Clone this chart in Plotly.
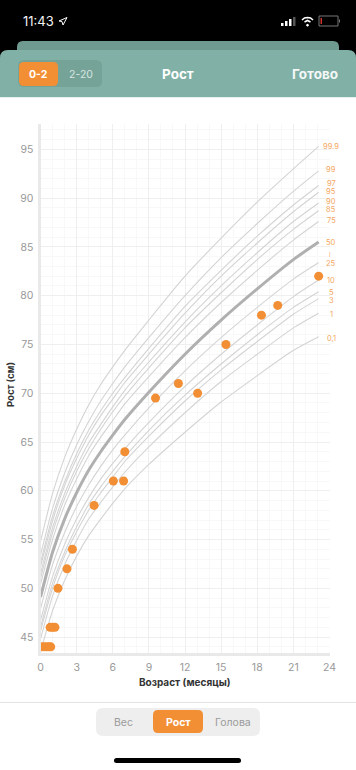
import plotly.graph_objects as go

W, H = 356, 770

ages = [0, 1, 2, 3, 4, 5, 6, 7, 9, 12, 15, 18, 21, 23.1]

p0_1 = [43.5, 47.7, 50.8, 53.3, 55.4, 57.1, 58.7, 60.2, 62.7, 66.0, 69.1, 71.8, 74.4, 75.8]
p1 = [44.8, 49.2, 52.4, 54.9, 57.1, 58.8, 60.4, 61.9, 64.5, 68.0, 71.2, 74.0, 76.7, 78.2]
p3 = [45.6, 50.0, 53.3, 55.8, 58.0, 59.8, 61.4, 63.0, 65.6, 69.2, 72.4, 75.3, 78.1, 79.7]
p5 = [46.0, 50.5, 53.7, 56.3, 58.6, 60.4, 62.0, 63.5, 66.2, 69.8, 73.0, 76.0, 78.8, 80.4]
p10 = [46.7, 51.2, 54.5, 57.1, 59.3, 61.2, 62.8, 64.3, 67.0, 70.7, 74.0, 77.0, 79.9, 81.6]
p25 = [47.9, 52.4, 55.7, 58.4, 60.6, 62.5, 64.2, 65.7, 68.5, 72.3, 75.7, 78.8, 81.7, 83.4]
p50 = [49.1, 53.7, 57.1, 59.8, 62.1, 64.0, 65.7, 67.3, 70.1, 74.0, 77.5, 80.7, 83.7, 85.5]
p75 = [50.4, 55.0, 58.5, 61.2, 63.6, 65.5, 67.2, 68.9, 71.7, 75.7, 79.3, 82.6, 85.7, 87.6]
p85 = [51.0, 55.7, 59.2, 62.0, 64.3, 66.3, 68.1, 69.7, 72.6, 76.7, 80.3, 83.7, 86.8, 88.7]
p90 = [51.5, 56.2, 59.7, 62.5, 64.9, 66.8, 68.6, 70.3, 73.2, 77.3, 81.0, 84.4, 87.6, 89.5]
p95 = [52.2, 56.9, 60.5, 63.3, 65.7, 67.7, 69.4, 71.1, 74.0, 78.2, 82.0, 85.4, 88.6, 90.6]
p97 = [52.6, 57.4, 60.9, 63.8, 66.2, 68.2, 70.0, 71.6, 74.6, 78.9, 82.6, 86.1, 89.3, 91.3]
p99 = [53.4, 58.2, 61.8, 64.7, 67.1, 69.2, 71.0, 72.7, 75.7, 80.0, 83.9, 87.4, 90.7, 92.8]
p99_9 = [54.8, 59.7, 63.4, 66.3, 68.8, 70.9, 72.7, 74.4, 77.5, 82.0, 85.9, 89.6, 93.0, 95.3]

curves = [("0,1", p0_1), ("1", p1), ("3", p3), ("5", p5), ("10", p10), ("25", p25),
          ("50", p50), ("75", p75), ("85", p85), ("90", p90), ("95", p95),
          ("97", p97), ("99", p99), ("99.9", p99_9)]

point_age = [0.1, 0.3, 0.5, 0.7, 0.85, 0.8, 1.0, 1.2, 1.45, 2.2, 2.65, 4.45, 6.05,
             6.9, 7.0, 9.55, 11.45, 13.05, 15.4, 18.35, 19.7, 23.1]
point_height = [44, 44, 44, 44, 44, 46, 46, 46, 50, 52, 54, 58.5, 61,
                61, 64, 69.5, 71, 70, 75, 78, 79, 82]

x_ticks = [0, 3, 6, 9, 12, 15, 18, 21, 24]
y_ticks = [45, 50, 55, 60, 65, 70, 75, 80, 85, 90, 95]

ORANGE = "#f28f35"
FONT = "Inter, Liberation Sans, sans-serif"


def px(x):
    return x / W


def py(y):
    return 1 - y / H


def rrect(x0, y0, x1, y1, r, fill, bottom_round=True):
    a, b, c, d = px(x0), py(y0), px(x1), py(y1)
    rx, ry = r / W, r / H
    if bottom_round:
        path = (f"M {a+rx} {b} L {c-rx} {b} Q {c} {b} {c} {b-ry} L {c} {d+ry} Q {c} {d} {c-rx} {d} "
                f"L {a+rx} {d} Q {a} {d} {a} {d+ry} L {a} {b-ry} Q {a} {b} {a+rx} {b} Z")
    else:
        path = (f"M {a+rx} {b} L {c-rx} {b} Q {c} {b} {c} {b-ry} L {c} {d} L {a} {d} L {a} {b-ry} "
                f"Q {a} {b} {a+rx} {b} Z")
    return dict(type="path", xref="paper", yref="paper", path=path,
                fillcolor=fill, line=dict(width=0), layer="below")


def rect(x0, y0, x1, y1, fill):
    return dict(type="rect", xref="paper", yref="paper", x0=px(x0), x1=px(x1),
                y0=py(y1), y1=py(y0), fillcolor=fill, line=dict(width=0), layer="below")


def stroke(path_pts, color, width):
    d = "M " + " L ".join(f"{px(a)} {py(b)}" for a, b in path_pts)
    return dict(type="path", xref="paper", yref="paper", path=d,
                line=dict(color=color, width=width), layer="above")


def label(text, x, y, size, color, bold=False, angle=0):
    return dict(text=f"<b>{text}</b>" if bold else text, xref="paper", yref="paper",
                x=px(x), y=py(y), xanchor="center", yanchor="middle", showarrow=False,
                font=dict(size=size, color=color, family=FONT), textangle=angle)


fig = go.Figure()

for name, vals in curves:
    is_mid = name == "50"
    fig.add_trace(go.Scatter(
        x=ages, y=vals, mode="lines", name=name, hoverinfo="skip",
        line=dict(color="#b0b0b0" if is_mid else "#d4d4d4", width=3 if is_mid else 1.1,
                  shape="spline", smoothing=0.6),
    ))

fig.add_trace(go.Scatter(
    x=point_age, y=point_height, mode="markers", name="Рост",
    marker=dict(color=ORANGE, size=9, line=dict(width=0)),
))

shapes = [
    rect(0, 0, 356, 97, "#000000"),
    rrect(17, 41, 339, 60, 6, "#6f9a90", bottom_round=False),
    rrect(0, 50, 356, 97, 8, "#80b0a6", bottom_round=False),
    rect(0, 97, 356, 98, "#e6f0ed"),
    rrect(18, 60, 102, 87, 6, "#76a398"),
    rrect(19, 62, 58, 86, 5, ORANGE),
    rect(281, 23, 283.5, 26, "#ffffff"),
    rect(285, 21, 287.5, 26, "#ffffff"),
    rect(289, 19, 291.5, 26, "#ffffff"),
    rect(293, 17, 295.5, 26, "#555555"),
    dict(type="rect", xref="paper", yref="paper", x0=px(319), x1=px(338), y0=py(26), y1=py(16),
         line=dict(color="#777777", width=1), layer="above"),
    rect(320.5, 18, 322, 24, "#c8322a"),
    rect(339, 19.5, 340, 22.5, "#777777"),
    dict(type="path", xref="paper", yref="paper", layer="above", fillcolor="rgba(0,0,0,0)",
         line=dict(color="#ffffff", width=1),
         path=f"M {px(59)} {py(21)} L {px(67)} {py(17.5)} L {px(63)} {py(25)} L {px(62)} {py(21.5)} Z"),
    stroke([(302, 20), (304.5, 18), (307.5, 17.5), (310.5, 18), (313, 20)], "#ffffff", 1.6),
    stroke([(304.5, 22), (307.5, 20.5), (310.5, 22)], "#ffffff", 1.6),
    stroke([(306.5, 24.5), (307.5, 25.5), (308.5, 24.5)], "#ffffff", 1.8),
    rect(0, 702, 356, 703, "#e2e2e2"),
    rrect(96, 708, 260, 736, 7, "#eeeeee"),
    rrect(153, 710, 203, 733, 5, ORANGE),
    rrect(114, 758, 241, 763, 2.5, "#000000"),
]

annotations = [
    label("11:43", 38, 21, 13, "#f2f2f2"),
    label("0-2", 38.5, 74, 10.5, "#ffffff", bold=True),
    label("2-20", 81, 74, 10.5, "#d6e5e1"),
    label("Рост", 178, 74, 13.5, "#ffffff", bold=True),
    label("Готово", 315, 74, 13.5, "#f4f8f7", bold=True),
    label("Вес", 123, 722, 10.5, "#9a9a9a"),
    label("Рост", 178, 722, 10.5, "#ffffff", bold=True),
    label("Голова", 233, 722, 10.5, "#9a9a9a"),
    label("<b>Возраст (месяцы)</b>", 185, 681.5, 10, "#333333"),
    label("<b>Рост (см)</b>", 10, 385, 9.5, "#333333", angle=-90),
]

label_y = {"0,1": 338, "1": 314, "3": 300, "5": 293, "10": 281, "25": 263, "50": 242,
           "75": 221, "85": 210, "90": 202, "95": 191.5, "97": 183.5, "99": 170, "99.9": 146.5}
for name, _ in curves:
    annotations.append(label(name, 331, label_y[name], 7.5, "#f4a65e"))
annotations.append(label("I", 329.5, 255.5, 5.5, "#f4a65e"))

fig.update_layout(
    width=W, height=H, margin=dict(l=0, r=0, t=0, b=0, pad=0),
    paper_bgcolor="#ffffff", plot_bgcolor="#ffffff", showlegend=False,
    hovermode=False, shapes=shapes, annotations=annotations,
    font=dict(family=FONT),
    xaxis=dict(
        domain=[px(40.5), px(329.5)], range=[0, 24], tickmode="array", tickvals=x_ticks,
        ticks="", showgrid=True, gridcolor="#efefef", gridwidth=1, zeroline=False,
        minor=dict(dtick=1, tick0=0, showgrid=True, gridcolor="#f8f8f8", gridwidth=1, ticks=""),
        showline=True, linecolor="#e9e9e9", linewidth=3,
        tickfont=dict(size=10.5, color="#999999", family=FONT), ticklabelstandoff=3,
        automargin=False,
    ),
    yaxis=dict(
        domain=[py(652.7), py(124)], range=[43.4, 97.6], tickmode="array", tickvals=y_ticks,
        ticks="", showgrid=True, gridcolor="#efefef", gridwidth=1, zeroline=False,
        minor=dict(dtick=1, tick0=0, showgrid=True, gridcolor="#f8f8f8", gridwidth=1, ticks=""),
        showline=True, linecolor="#e9e9e9", linewidth=3,
        tickfont=dict(size=10.5, color="#999999", family=FONT), ticklabelstandoff=2,
        automargin=False,
    ),
)

fig.write_html("out.html", config=dict(displayModeBar=False),
               post_script="document.body.style.margin='0';document.body.style.overflow='hidden';")
